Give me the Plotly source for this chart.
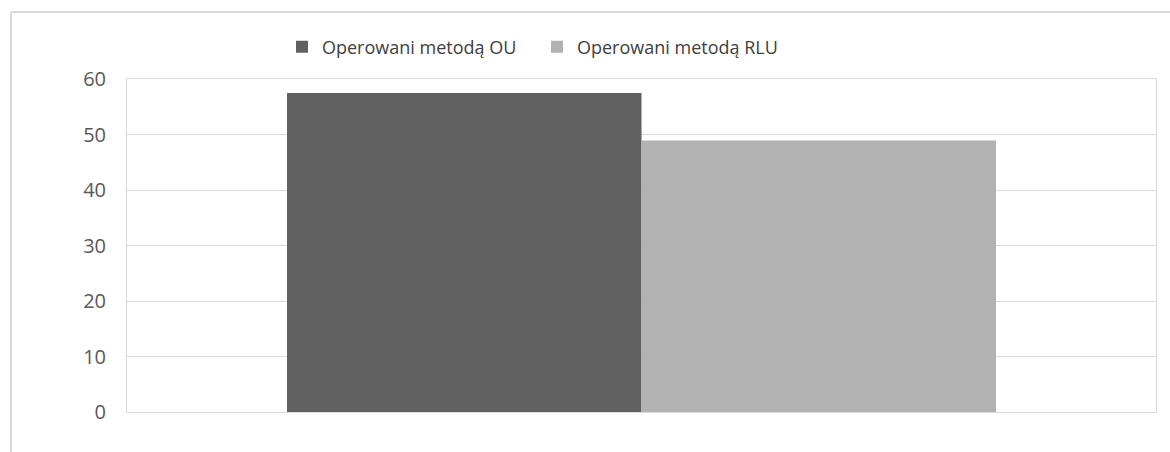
import plotly.graph_objects as go

categories = [""]
series_names = ["Operowani metodą OU", "Operowani metodą RLU"]
series_values = [[57.5], [48.9]]
series_colors = ["#606060", "#b2b2b2"]
y_ticks = [0, 10, 20, 30, 40, 50, 60]

W, H = 1170, 452
L, R, T, B = 127, 1156, 79, 412

fig = go.Figure()
for name, vals, col in zip(series_names, series_values, series_colors):
    fig.add_trace(go.Bar(x=categories, y=vals, name=name, marker=dict(color=col, line=dict(width=0))))

def px(x):
    return (x - L) / (R - L)

def py(y):
    return (B - y) / (B - T)

grid = "#d9d9d9"
fig.update_layout(
    width=W, height=H,
    margin=dict(l=L, r=W - R, t=T, b=H - B, pad=0),
    paper_bgcolor="white", plot_bgcolor="white",
    barmode="group", bargap=0.311, bargroupgap=0,
    font=dict(family="Open Sans", color="#595959", size=16),
    legend=dict(orientation="h", x=px(282), xanchor="left", y=py(47), yanchor="middle",
                font=dict(size=18, color="#404040"), itemwidth=30, traceorder="normal",
                entrywidth=210, entrywidthmode="pixels",
                bgcolor="rgba(0,0,0,0)"),
    xaxis=dict(showticklabels=False, showgrid=False, showline=True, linecolor=grid, linewidth=1,
               mirror=True, ticks="", fixedrange=True),
    yaxis=dict(range=[0, 60], tickvals=y_ticks, showgrid=True, gridcolor=grid, gridwidth=1,
               zeroline=False, showline=True, linecolor=grid, linewidth=1, mirror=True,
               ticks="", ticklabelstandoff=16, tickfont=dict(size=20, color="#595959")),
    shapes=[
        dict(type="line", xref="paper", yref="paper", x0=px(11), x1=px(11), y0=py(12), y1=py(460),
             line=dict(color="#d9d9d9", width=2)),
        dict(type="line", xref="paper", yref="paper", x0=px(11), x1=px(1180), y0=py(12), y1=py(12),
             line=dict(color="#d9d9d9", width=2)),
    ],
)

fig.write_html("out.html")
